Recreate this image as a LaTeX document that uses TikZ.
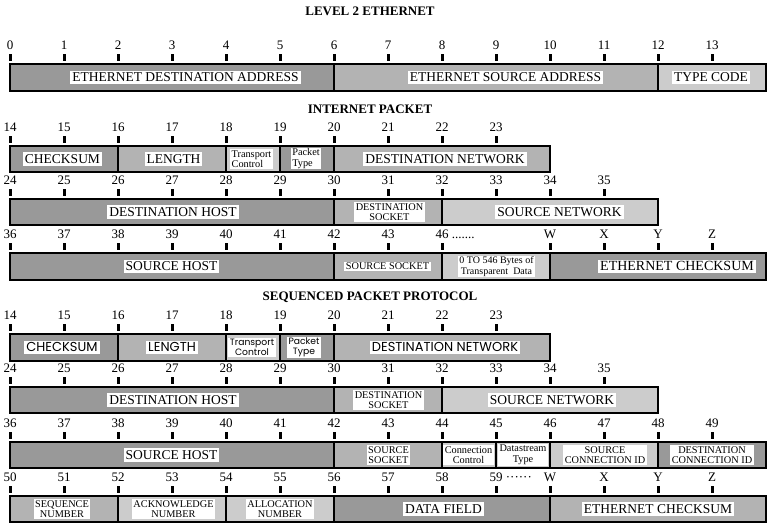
\documentclass[tikz,border=0pt]{standalone}
\usepackage{fontspec}
\setmainfont{Liberation Serif}
\newfontfamily\geofont{Poppins}
\definecolor{gdark}{RGB}{153,153,153}
\definecolor{gmid}{RGB}{179,179,179}
\definecolor{glight}{RGB}{204,204,204}
\tikzset{
  segbox/.style={draw=black, line width=1.1pt},
  lab/.style={fill=white, inner xsep=2pt, inner ysep=1.5pt, font=\fontsize{13.5}{14}\selectfont, text height=9.6pt, text depth=0.8pt},
  geolab/.style={fill=white, inner xsep=2pt, inner ysep=1.5pt, font=\geofont\fontsize{13}{13}\selectfont, text height=9.6pt, text depth=1pt},
  smalllab/.style={fill=white, inner xsep=1.5pt, inner ysep=1pt, font=\fontsize{10.3}{10.6}\selectfont, align=center},
  geosmall/.style={fill=white, inner xsep=1.5pt, inner ysep=0.8pt, font=\geofont\fontsize{9.2}{10}\selectfont, align=center},
  num/.style={font=\fontsize{13}{13}\selectfont, inner sep=0pt},
  ttl/.style={font=\fontsize{13}{13}\selectfont\bfseries, inner sep=0pt},
}
% #1 row id, #2 bar top, #3 list col/label
\newcommand\ticknums[3]{%
  \foreach \k/\t in {#3} {%
    \fill (10+54*\k-1.5, #2-10) rectangle (10+54*\k+1.5, #2-3);
    \node[num] (#1-n\k) at (10+54*\k, #2-19) {\t};
  }}
% #1 top, #2 bottom, #3 list x1/x2/colour
\newcommand\segrow[3]{%
  \foreach \a/\b/\c in {#3} {%
    \draw[segbox, fill=\c] (\a,#1) rectangle (\b,#2);
  }}
\begin{document}
\begin{tikzpicture}[x=1pt,y=-1pt]
\useasboundingbox (0,0) rectangle (767,523);

% ---------------- LEVEL 2 ETHERNET
\node[ttl] (t1) at (370,11) {LEVEL 2 ETHERNET};
\ticknums{e}{64}{0/0,1/1,2/2,3/3,4/4,5/5,6/6,7/7,8/8,9/9,10/10,11/11,12/12,13/13}
\segrow{64}{91}{10/334/gdark,334/658/gmid,658/766/glight}
\node[lab] (e1) at (185.5,77.5) {ETHERNET DESTINATION ADDRESS};
\node[lab] (e2) at (505.5,77.5) {ETHERNET SOURCE ADDRESS};
\node[lab] (e3) at (711,77.5) {TYPE CODE};

% ---------------- INTERNET PACKET
\node[ttl] (t2) at (370,109.5) {INTERNET PACKET};
\ticknums{i1}{146}{0/14,1/15,2/16,3/17,4/18,5/19,6/20,7/21,8/22,9/23}
\segrow{146}{172}{10/118/gdark,118/226/gmid,226/280/glight,280/334/gdark,334/550/gmid}
\node[lab] (i1a) at (62.5,159) {CHECKSUM};
\node[lab] (i1b) at (173.5,159) {LENGTH};
\node[smalllab, align=left] (i1c) at (251.5,159) {Transport\\Control};
\node[smalllab, align=left] (i1d) at (306,158.5) {Packet\\Type};
\node[lab] (i1e) at (445,159) {DESTINATION NETWORK};

\ticknums{i2}{199}{0/24,1/25,2/26,3/27,4/28,5/29,6/30,7/31,8/32,9/33,10/34,11/35}
\segrow{199}{225}{10/334/gdark,334/442/gmid,442/658/glight}
\node[lab] (i2a) at (173,212) {DESTINATION HOST};
\node[smalllab] (i2b) at (389.5,212) {DESTINATION\\SOCKET};
\node[lab] (i2c) at (559.5,212) {SOURCE NETWORK};

\ticknums{i3}{253}{0/36,1/37,2/38,3/39,4/40,5/41,6/42,7/43,8/46,10/W,11/X,12/Y,13/Z}
\node[num, anchor=base west] (i3dots) at ([xshift=3pt]i3-n8.base east) {.......};
\segrow{253}{280}{10/334/gdark,334/442/gmid,442/550/glight,550/766/gdark}
\node[lab] (i3a) at (171.5,266.5) {SOURCE HOST};
\node[smalllab] (i3b) at (387.5,266.5) {SOURCE SOCKET};
\node[smalllab, font=\fontsize{10}{10.6}\selectfont] (i3c) at (496.5,266.5) {0 TO 546 Bytes of\\Transparent~ Data};
\node[lab, font=\fontsize{14}{14}\selectfont] (i3d) at (677,266.5) {ETHERNET CHECKSUM};

% ---------------- SEQUENCED PACKET PROTOCOL
\node[ttl] (t3) at (370,297) {SEQUENCED PACKET PROTOCOL};
\ticknums{s1}{334}{0/14,1/15,2/16,3/17,4/18,5/19,6/20,7/21,8/22,9/23}
\segrow{334}{361}{10/118/gdark,118/226/gmid,226/280/glight,280/334/gdark,334/550/gmid}
\node[geolab] (s1a) at (62,347.5) {CHECKSUM};
\node[geolab] (s1b) at (172,347.5) {LENGTH};
\node[geosmall] (s1c) at (252,347.5) {Transport\\Control};
\node[geosmall] (s1d) at (304,347.5) {Packet\\Type};
\node[geolab] (s1e) at (445,347.5) {DESTINATION NETWORK};

\ticknums{s2}{387}{0/24,1/25,2/26,3/27,4/28,5/29,6/30,7/31,8/32,9/33,10/34,11/35}
\segrow{387}{413}{10/334/gdark,334/442/gmid,442/658/glight}
\node[lab] (s2a) at (173,400) {DESTINATION HOST};
\node[smalllab] (s2b) at (388.5,400) {DESTINATION\\SOCKET};
\node[lab] (s2c) at (552,400) {SOURCE NETWORK};

\ticknums{s3}{442}{0/36,1/37,2/38,3/39,4/40,5/41,6/42,7/43,8/44,9/45,10/46,11/47,12/48,13/49}
\segrow{442}{468}{10/334/gdark,334/442/gmid,442/496/glight,496/550/glight,550/658/glight,658/766/gdark}
\node[lab] (s3a) at (171.5,455) {SOURCE HOST};
\node[smalllab] (s3b) at (388.5,455) {SOURCE\\SOCKET};
\node[smalllab] (s3c) at (468.5,455) {Connection\\Control};
\node[smalllab] (s3d) at (523,455) {Datastream\\Type};
\node[smalllab] (s3e) at (605,455) {SOURCE\\CONNECTION ID};
\node[smalllab] (s3f) at (712,455) {DESTINATION\\CONNECTION ID};

\ticknums{s4}{496}{0/50,1/51,2/52,3/53,4/54,5/55,6/56,7/57,8/58,9/59,10/W,11/X,12/Y,13/Z}
\node[num, anchor=base west] (s4dots) at ([xshift=3pt]s4-n9.base east) {······};
\segrow{496}{522}{10/118/gmid,118/226/glight,226/334/glight,334/550/gdark,550/766/gmid}
\node[smalllab] (s4a) at (62,509) {SEQUENCE\\NUMBER};
\node[smalllab] (s4b) at (173.5,509) {ACKNOWLEDGE\\NUMBER};
\node[smalllab] (s4c) at (280,509) {ALLOCATION\\NUMBER};
\node[lab] (s4d) at (443.5,509) {DATA FIELD};
\node[lab] (s4e) at (658,509) {ETHERNET CHECKSUM};
\end{tikzpicture}
\end{document}
